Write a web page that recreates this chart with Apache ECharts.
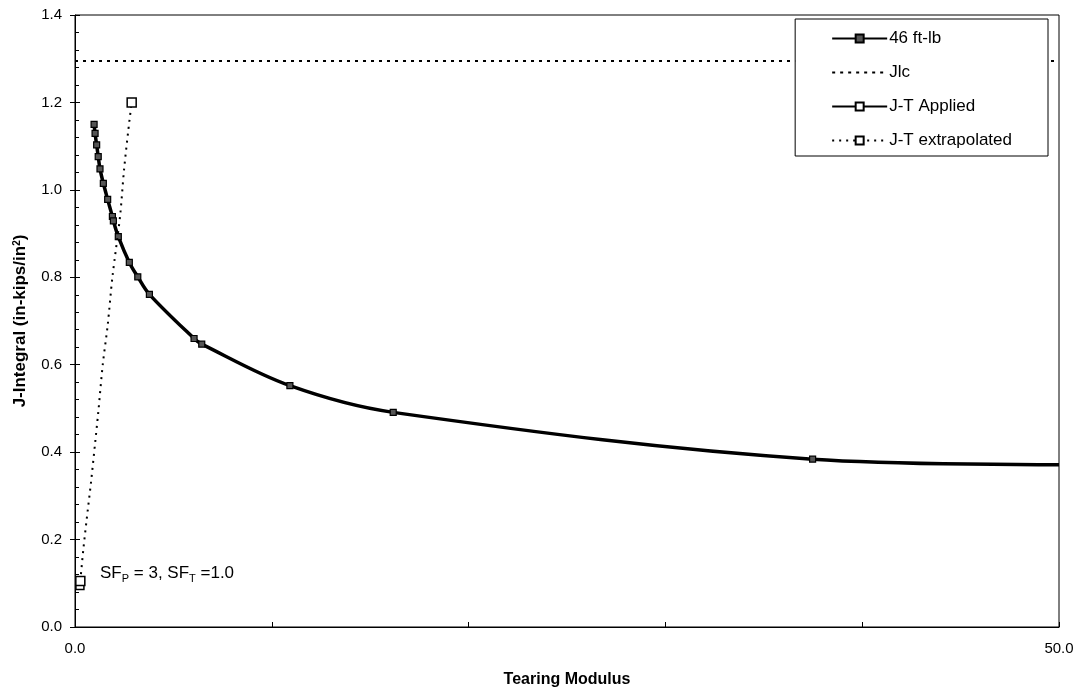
<!DOCTYPE html>
<html>
<head>
<meta charset="utf-8">
<script src="https://cdn.jsdelivr.net/npm/echarts@6/dist/echarts.min.js"></script>
<style>html,body{margin:0;padding:0;background:#fff;}#c{width:1081px;height:695px;}</style>
</head>
<body>
<div id="c"></div>
<script>
// ---- data ----
var curveT = [0.97, 1.02, 1.10, 1.18, 1.27, 1.44, 1.66, 1.90, 1.95, 2.20, 2.76, 3.19, 3.78, 6.05, 6.44, 10.92, 16.17, 37.48, 50.0];
var curveJ = [1.150, 1.129, 1.103, 1.076, 1.048, 1.015, 0.978, 0.939, 0.929, 0.893, 0.834, 0.801, 0.761, 0.660, 0.647, 0.552, 0.491, 0.384, 0.371];
var jlcT = [0, 50];
var jlcJ = [1.295, 1.295];
var appliedT = [0.25, 0.27];
var appliedJ = [0.095, 0.105];
var extrapT = [0.27, 0.42, 0.59, 0.81, 1.02, 1.18, 1.41, 1.66, 1.90, 2.29, 2.49, 2.71, 2.88];
var extrapJ = [0.105, 0.176, 0.245, 0.33, 0.42, 0.49, 0.60, 0.69, 0.80, 0.94, 1.045, 1.137, 1.20];
var xLabels = [0, 50];
var seriesNames = ['46 ft-lb', 'Jlc', 'J-T Applied', 'J-T extrapolated'];

function pairs(xs, ys) { return xs.map(function (x, i) { return [x, ys[i]]; }); }

var FONT = 'Liberation Sans, Arial, sans-serif';

var curveData = pairs(curveT, curveJ).map(function (p, i) {
  return i === curveT.length - 1 ? { value: p, symbol: 'none' } : p;
});
var extrapData = pairs(extrapT, extrapJ).map(function (p, i) {
  return (i === 0 || i === extrapT.length - 1) ? p : { value: p, symbol: 'none' };
});

var chart = echarts.init(document.getElementById('c'));
chart.setOption({
  animation: false,
  backgroundColor: '#fff',
  grid: { left: 75, right: 22, top: 15, bottom: 68, show: true, borderColor: '#000', borderWidth: 1, backgroundColor: 'transparent' },
  legend: {
    data: [
      { name: seriesNames[0] },
      { name: seriesNames[1], itemStyle: { opacity: 0 } },
      { name: seriesNames[2] },
      { name: seriesNames[3] }
    ],
    orient: 'vertical',
    right: 33, top: 19,
    padding: [11, 36, 7, 36],
    itemWidth: 55, itemHeight: 10, itemGap: 17,
    backgroundColor: '#fff', borderColor: '#000', borderWidth: 1,
    textStyle: { fontFamily: FONT, fontSize: 17, lineHeight: 14, color: '#000', padding: [0, 0, 0, -3] }
  },
  xAxis: {
    type: 'value', min: 0, max: 50, interval: 10,
    name: 'Tearing Modulus', nameLocation: 'middle', nameGap: 45,
    nameTextStyle: { fontFamily: FONT, fontSize: 16, fontWeight: 'bold', color: '#000' },
    axisLine: { show: true, onZero: false, lineStyle: { color: '#000', width: 1 } },
    axisTick: { show: true, inside: true, length: 5, lineStyle: { color: '#000' } },
    axisLabel: {
      color: '#000', fontFamily: FONT, fontSize: 15, margin: 14,
      formatter: function (v) { return xLabels.indexOf(v) >= 0 ? v.toFixed(1) : ''; }
    },
    splitLine: { show: false }
  },
  yAxis: [{
    type: 'value', min: 0, max: 1.4, interval: 0.2,
    name: 'J-Integral (in-kips/in{sup|2})', nameLocation: 'middle', nameGap: 46,
    nameTextStyle: {
      fontFamily: FONT, fontSize: 17, fontWeight: 'bold', color: '#000',
      rich: { sup: { fontFamily: FONT, fontSize: 10, fontWeight: 'bold', color: '#000', verticalAlign: 'top' } }
    },
    axisLine: { show: true, onZero: false, lineStyle: { color: '#000', width: 1 } },
    axisTick: { show: true, inside: true, length: 5, lineStyle: { color: '#000' } },
    minorTick: { show: true, splitNumber: 5, length: 4, lineStyle: { color: '#000' } },
    axisLabel: { color: '#000', fontFamily: FONT, fontSize: 15, margin: 13, formatter: function (v) { return v.toFixed(1); } },
    splitLine: { show: false }
  }, {
    type: 'value', min: 0, max: 1.4, interval: 0.2, position: 'left',
    axisLine: { show: false },
    axisTick: { show: true, inside: false, length: 5, lineStyle: { color: '#000' } },
    axisLabel: { show: false },
    splitLine: { show: false }
  }],
  series: [{
    name: '46 ft-lb', type: 'line', smooth: 0.35,
    data: curveData,
    symbol: 'rect', symbolSize: 6,
    lineStyle: { color: '#000', width: 3.5 },
    itemStyle: { color: '#555', borderColor: '#000', borderWidth: 1.2 },
    z: 3
  }, {
    name: 'Jlc', type: 'line',
    data: pairs(jlcT, jlcJ),
    symbol: 'none',
    lineStyle: { color: '#000', width: 2, type: [3, 5] },
    itemStyle: { color: '#000' }
  }, {
    name: 'J-T Applied', type: 'line',
    data: pairs(appliedT, appliedJ),
    symbol: 'rect', symbolSize: 8,
    lineStyle: { color: '#000', width: 3 },
    itemStyle: { color: '#fff', borderColor: '#000', borderWidth: 1.5 },
    z: 4,
    markPoint: {
      symbol: 'rect', symbolSize: 0,
      data: [{ coord: [1.27, 0.123], value: 0 }],
      label: {
        show: true, position: 'right', distance: 0,
        formatter: '{a|SF}{s|P}{a| = 3, SF}{s|T}{a| =1.0}',
        rich: {
          a: { fontFamily: FONT, fontSize: 17, color: '#000', lineHeight: 22 },
          s: { fontFamily: FONT, fontSize: 11, color: '#000', lineHeight: 22, verticalAlign: 'bottom' }
        }
      }
    }
  }, {
    name: 'J-T extrapolated', type: 'line', smooth: 0.3,
    data: extrapData,
    symbol: 'rect', symbolSize: 9,
    lineStyle: { color: '#000', width: 2, type: [2, 5] },
    itemStyle: { color: '#fff', borderColor: '#000', borderWidth: 1.5 },
    z: 4
  }]
});
</script>
</body>
</html>
